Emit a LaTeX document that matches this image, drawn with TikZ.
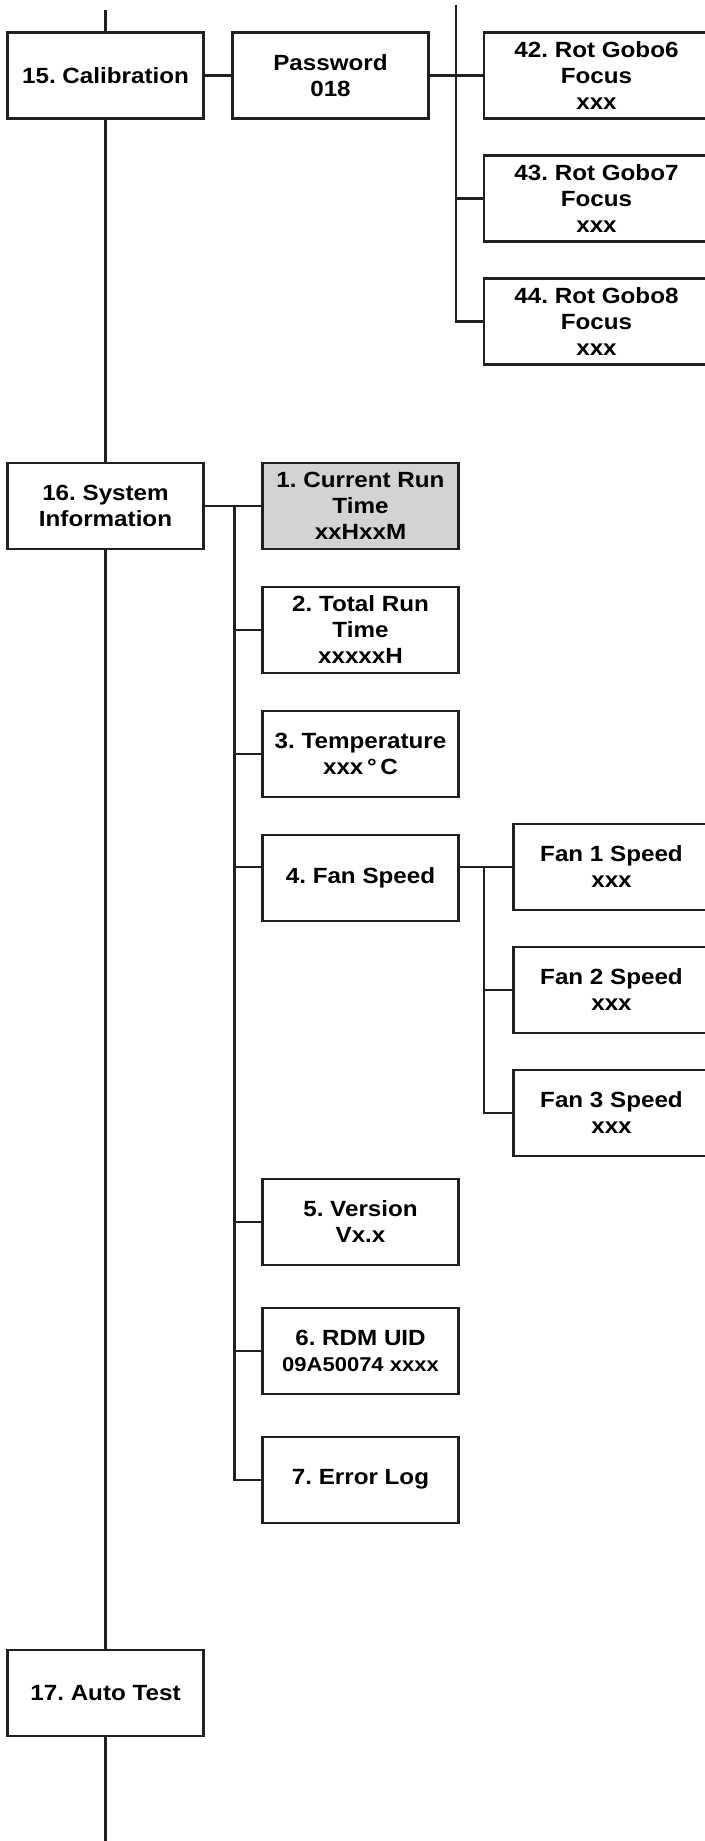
\documentclass[tikz,border=0pt]{standalone}
\usepackage{fontspec}
\setmainfont{Liberation Sans}[FakeStretch=1.1]
\usepackage{xcolor}
\usepackage{tikz}
\usetikzlibrary{positioning,calc}
\definecolor{linegray}{HTML}{231F20}
\definecolor{runfill}{HTML}{D1D3D4}
\frenchspacing

\begin{document}
\begin{tikzpicture}[
  x=1pt,y=-1pt,
  menu/.style={draw=linegray,line width=2.3pt,fill=white,minimum width=196pt,minimum height=86pt,inner sep=0pt,outer sep=0pt,align=center,font=\bfseries\fontsize{22}{26}\selectfont},
  wide/.style={menu,minimum width=225pt},
  hl/.style={menu,fill=runfill},
  link/.style={draw=linegray,line width=2.3pt},
  node distance=37pt and 29pt
]
\useasboundingbox (0,0) rectangle (704,1841);
% main menu column
\node[menu] (cal) at (105.5,75.5) {15. Calibration};
\node[menu] (sys) at (105.5,505.7) {16. System\\Information};
\node[menu] (auto) at (105.5,1692.8) {17. Auto Test};
\coordinate (top) at (105.5,10);
\coordinate (bot) at (105.5,1841);
% calibration branch
\node[menu,right=of cal] (pw) {Password\\018};
\node[wide] (g6) at (596.5,75.5) {42. Rot Gobo6\\Focus\\xxx};
\node[wide,below=of g6] (g7) {43. Rot Gobo7\\Focus\\xxx};
\node[wide,below=of g7] (g8) {44. Rot Gobo8\\Focus\\xxx};
\coordinate (rtop) at (455.8,5);
% system information branch
\node[hl,right=59pt of sys] (cur) {1. Current Run\\Time\\xxHxxM};
\node[menu,below=38pt of cur] (tot) {2. Total Run\\Time\\xxxxxH};
\node[menu,below=38pt of tot] (tmp) {3. Temperature\\xxx\,°\,C};
\node[menu,below=38pt of tmp] (fs) {4. Fan Speed};
\node[menu,below=258pt of fs] (ver) {5. Version\\Vx.x};
\node[menu,below=43pt of ver] (uid) {6. RDM UID\\{\fontsize{20}{24}\selectfont 09A50074 xxxx}};
\node[menu,below=43pt of uid] (err) {7. Error Log};
\coordinate (spine) at (234.4,505.7);
\node[menu] (fan1) at (611.5,866.8) {Fan 1 Speed\\xxx};
\node[menu,below=of fan1] (fan2) {Fan 2 Speed\\xxx};
\node[menu,below=of fan2] (fan3) {Fan 3 Speed\\xxx};
\coordinate (fspine) at (484,866.8);
% connectors
\draw[link] (top) -- (cal.north) (cal.south) -- (sys.north) (sys.south) -- (auto.north) (auto.south) -- (bot);
\draw[link] (cal.east) -- (pw.west); \draw[link] (pw.east) -- (g6.west);
\draw[link] (rtop) -- (rtop |- g8.west) -- (g8.west); \draw[link] (rtop |- g7.west) -- (g7.west);
\draw[link] (sys.east) -- (cur.west);
\draw[link] (spine) -- (spine |- err.west) -- (err.west);
\draw[link] (spine |- tot.west) -- (tot.west); \draw[link] (spine |- tmp.west) -- (tmp.west); \draw[link] (spine |- fan1.west) -- (fs.west |- fan1.west);
\draw[link] (spine |- ver.west) -- (ver.west); \draw[link] (spine |- uid.west) -- (uid.west);
\draw[link] (fs.east |- fan1.west) -- (fan1.west);
\draw[link] (fspine) -- (fspine |- fan3.west) -- (fan3.west); \draw[link] (fspine |- fan2.west) -- (fan2.west);
\end{tikzpicture}
\end{document}
